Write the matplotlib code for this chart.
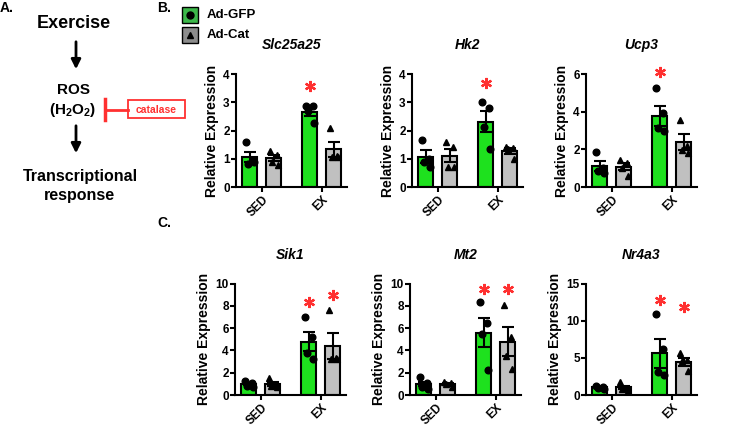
import matplotlib
matplotlib.use("Agg")
import matplotlib.pyplot as plt
from matplotlib.patches import Rectangle
import numpy as np

plt.rcParams['font.family'] = ['Liberation Sans', 'DejaVu Sans']
plt.rcParams['font.weight'] = 'bold'
plt.rcParams['mathtext.fontset'] = 'custom'
plt.rcParams['mathtext.rm'] = 'Liberation Sans:bold'
plt.rcParams['mathtext.default'] = 'rm'

# ---------------- data ----------------
groups = ["SED", "EX"]
series = ["Ad-GFP", "Ad-Cat"]
genes = ["Slc25a25", "Hk2", "Ucp3", "Sik1", "Mt2", "Nr4a3"]
ymax = [4, 4, 6, 10, 10, 15]
ystep = [1, 1, 2, 2, 2, 5]

# points per gene: [SED-GFP, SED-Cat, EX-GFP, EX-Cat]
pts_slc25a25 = [[1.58, 0.95, 0.80, 0.87], [1.28, 1.12, 0.90, 0.78],
                [2.88, 2.85, 2.70, 2.25], [2.10, 1.10, 1.05, 1.05]]
pts_hk2 = [[1.65, 1.00, 0.90, 0.72], [1.60, 1.40, 0.72, 0.72],
           [3.00, 2.78, 2.14, 1.33], [1.40, 1.37, 1.33, 0.98]]
pts_ucp3 = [[1.84, 1.00, 0.85, 0.75], [1.45, 1.30, 1.00, 0.58],
            [5.24, 3.95, 3.12, 2.99], [3.55, 2.20, 1.95, 1.80]]
pts_sik1 = [[1.25, 1.10, 0.85, 0.75], [1.49, 0.90, 0.80, 0.75],
            [7.00, 5.20, 3.75, 3.25], [7.62, 3.36, 3.27, 3.20]]
pts_mt2 = [[1.65, 1.10, 0.75, 0.50], [1.20, 1.10, 1.00, 0.70],
           [8.33, 6.43, 5.45, 2.23], [8.10, 5.24, 3.51, 2.32]]
pts_nr4a3 = [[1.20, 1.10, 1.00, 0.80], [1.70, 0.90, 0.80, 0.70],
             [10.85, 6.25, 3.04, 2.68], [5.71, 4.73, 4.60, 3.26]]

mean_slc25a25 = [1.05, 1.02, 2.67, 1.33]; sem_slc25a25 = [0.18, 0.10, 0.14, 0.27]
mean_hk2 = [1.07, 1.10, 2.31, 1.27];      sem_hk2 = [0.23, 0.23, 0.38, 0.10]
mean_ucp3 = [1.11, 1.08, 3.79, 2.37];     sem_ucp3 = [0.26, 0.19, 0.53, 0.42]
mean_sik1 = [0.98, 0.98, 4.79, 4.40];     sem_sik1 = [0.11, 0.20, 0.86, 1.14]
mean_mt2 = [0.98, 0.98, 5.60, 4.79];      sem_mt2 = [0.20, 0.10, 1.28, 1.30]
mean_nr4a3 = [1.03, 1.03, 5.63, 4.46];    sem_nr4a3 = [0.09, 0.22, 1.95, 0.50]

# significance stars: (bar index, y)
stars_slc25a25 = [(2, 3.58)]
stars_hk2 = [(2, 3.69)]
stars_ucp3 = [(2, 6.12)]
stars_sik1 = [(2, 8.36), (3, 8.93)]
stars_mt2 = [(2, 9.55), (3, 9.55)]
stars_nr4a3 = [(2, 12.77), (3, 11.83)]

all_pts = [pts_slc25a25, pts_hk2, pts_ucp3, pts_sik1, pts_mt2, pts_nr4a3]
all_mean = [mean_slc25a25, mean_hk2, mean_ucp3, mean_sik1, mean_mt2, mean_nr4a3]
all_sem = [sem_slc25a25, sem_hk2, sem_ucp3, sem_sik1, sem_mt2, sem_nr4a3]
all_stars = [stars_slc25a25, stars_hk2, stars_ucp3, stars_sik1, stars_mt2, stars_nr4a3]

# ---------------- style ----------------
W, H = 731, 428
fig = plt.figure(figsize=(W / 100, H / 100), dpi=100)
bar_colors = ['#1ee11e', '#c0c0c0']
leg_colors = ['#3cb84a', '#8c8c8c']
markers = ['o', '^']
red = '#ff3030'

# overlay for diagram / legend in pixel coords
ov = fig.add_axes([0, 0, 1, 1])
ov.set_xlim(0, W)
ov.set_ylim(H, 0)
ov.axis('off')

# panel letters
ov.text(0, 1, "A.", fontsize=10, fontweight='bold', va='top', ha='left')
ov.text(157, 1, "B.", fontsize=10, fontweight='bold', va='top', ha='left')
ov.text(157, 216, "C.", fontsize=10, fontweight='bold', va='top', ha='left')

# diagram
ov.text(74, 23, "Exercise", fontsize=13, fontweight='bold', ha='center', va='center')
ov.annotate("", xy=(76, 72), xytext=(76, 39),
            arrowprops=dict(arrowstyle='-|>', lw=2, color='black', mutation_scale=14))
ov.text(73, 90, "ROS", fontsize=11, fontweight='bold', ha='center', va='center')
ov.text(73, 110, "(H$_2$O$_2$)", fontsize=11, fontweight='bold', ha='center', va='center')
ov.annotate("", xy=(76, 156), xytext=(76, 123),
            arrowprops=dict(arrowstyle='-|>', lw=2, color='black', mutation_scale=14))
ov.text(80, 176, "Transcriptional", fontsize=11.5, fontweight='bold', ha='center', va='center')
ov.text(79, 195, "response", fontsize=11.5, fontweight='bold', ha='center', va='center')
ov.plot([105, 128], [109.5, 109.5], color=red, lw=2)
ov.plot([105, 105], [99, 120], color=red, lw=2.5)
ov.add_patch(Rectangle((128, 100), 57, 18, fill=True, facecolor='white', edgecolor=red, lw=1.3))
ov.text(156.5, 109.5, "catalase", fontsize=7.5, fontweight='bold', color=red, ha='center', va='center')

# legend
for i in range(2):
    cy = 15 + 20 * i
    ov.add_patch(Rectangle((182, cy - 8), 16, 16, facecolor=leg_colors[i], edgecolor='black', lw=1))
    ov.plot([190], [cy], marker=markers[i], color='black', ms=5, ls='none')
    ov.text(207, cy, series[i], fontsize=9.5, fontweight='bold', ha='left', va='center')

# axes positions in pixels: (left, y0 pixel, y_top pixel)
lefts = [236, 412, 586, 235, 410, 586]
y0s = [187, 187, 187, 395, 395, 395]
ytops = [74, 74, 74, 283.5, 283.5, 283.5]
axw = 111

bar_x = [-0.2, 0.2, 0.8, 1.2]
bar_w = 0.25
jit = [-0.06, 0.05, -0.03, 0.07]

for k in range(6):
    ax = fig.add_axes([lefts[k] / W, 1 - y0s[k] / H, axw / W, (y0s[k] - ytops[k]) / H])
    ax.set_xlim(-0.43, 1.42)
    ax.set_ylim(0, ymax[k])
    for b in range(4):
        s = b % 2
        ax.bar(bar_x[b], all_mean[k][b], width=bar_w, color=bar_colors[s],
               edgecolor='black', lw=1.5, zorder=2)
        ax.errorbar(bar_x[b], all_mean[k][b], yerr=all_sem[k][b], color='black',
                    lw=1.5, capsize=4, capthick=1.5, zorder=3)
        ax.plot(np.array(jit) + bar_x[b], all_pts[k][b], ls='none', marker=markers[s],
                color='black', ms=4.8, zorder=4, clip_on=False)
    for (b, y) in all_stars[k]:
        ax.plot([bar_x[b]], [y], marker=(6, 2, 0), ms=8, mew=1.6, color=red,
                ls='none', clip_on=False, zorder=5)
    ax.spines['top'].set_visible(False)
    ax.spines['right'].set_visible(False)
    ax.spines['left'].set_linewidth(1.5)
    ax.spines['bottom'].set_linewidth(1.5)
    ax.set_yticks(np.arange(0, ymax[k] + 0.001, ystep[k]))
    ax.set_xticks([0, 1])
    ax.set_xticklabels(groups, rotation=45, ha='right', rotation_mode='anchor')
    ax.tick_params(width=1.5, length=3.5, labelsize=8.5, pad=1)
    for lab in ax.get_xticklabels() + ax.get_yticklabels():
        lab.set_fontweight('bold')
    ax.set_ylabel("Relative Expression", fontsize=10, fontweight='bold', labelpad=3)
    ax.text(0.5, 1.255, genes[k], transform=ax.transAxes, ha='center', va='center',
            fontsize=10, fontweight='bold', style='italic')

fig.savefig("out.png", dpi=100)
